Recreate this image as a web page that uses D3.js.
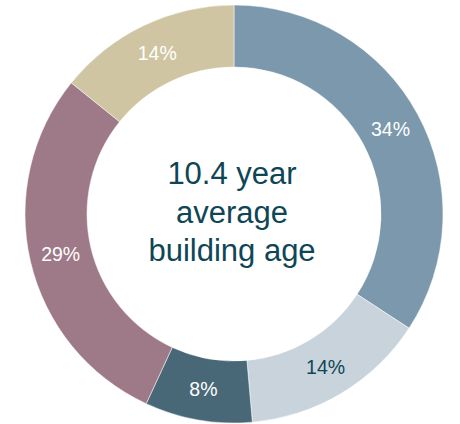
<!DOCTYPE html>
<html><head><meta charset="utf-8">
<script src="https://cdn.jsdelivr.net/npm/d3@7"></script>
<style>html,body{margin:0;padding:0;background:#fff;}svg{display:block;}</style>
</head><body>
<svg id="chart" width="460" height="424"></svg>
<script>
const categories = ["A", "B", "C", "D", "E"];
const values = [34.2, 14.4, 8.3, 28.9, 14.2];
const labels = ["34%", "14%", "8%", "29%", "14%"];
const colors = ["#7b98ad", "#c8d3dc", "#486878", "#9e7987", "#cfc5a2"];
const labelColors = ["#ffffff", "#0e4656", "#ffffff", "#ffffff", "#ffffff"];
const centerLines = ["10.4 year", "average", "building age"];

const svg = d3.select("#chart");
const cx = 234, cy = 214, outerR = 209, innerR = 147;
const g = svg.append("g").attr("transform", `translate(${cx},${cy})`);
const data = categories.map((c, i) => ({c, v: values[i], i}));
const pie = d3.pie().value(d => d.v).sort(null);
const arc = d3.arc().innerRadius(innerR).outerRadius(outerR);
const arcs = pie(data);
g.selectAll("path").data(arcs).join("path")
  .attr("d", arc)
  .attr("fill", d => colors[d.data.i])
  .attr("stroke", "#fff").attr("stroke-width", 0.5);
g.selectAll("text.lbl").data(arcs).join("text")
  .attr("class", "lbl")
  .attr("transform", d => `translate(${arc.centroid(d)})`)
  .attr("text-anchor", "middle").attr("dy", "0.36em")
  .attr("font-family", "Liberation Sans, Arial, sans-serif")
  .attr("font-size", 19.5)
  .attr("fill", d => labelColors[d.data.i])
  .text(d => labels[d.data.i]);
g.selectAll("text.ctr").data(centerLines).join("text")
  .attr("class", "ctr")
  .attr("x", -2).attr("y", (d, i) => -30 + i * 38.5)
  .attr("text-anchor", "middle")
  .attr("font-family", "Liberation Sans, Arial, sans-serif")
  .attr("font-size", 31)
  .attr("fill", "#0e4656")
  .text(d => d);
</script>
</body></html>
